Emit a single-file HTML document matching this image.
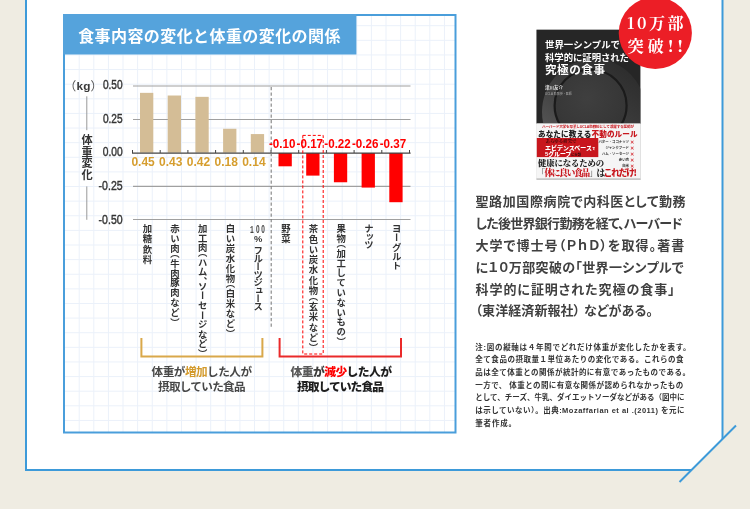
<!DOCTYPE html>
<html lang="ja"><head><meta charset="utf-8"><title>食事内容の変化と体重の変化の関係</title>
<style>
html,body{margin:0;padding:0;}
body{width:750px;height:509px;overflow:hidden;position:relative;background:#efece2;font-family:"Liberation Sans","Noto Sans CJK JP",sans-serif;}
svg{position:absolute;left:0;top:0;}
.vl{position:absolute;writing-mode:vertical-rl;font-size:9.4px;line-height:9.4px;width:9.4px;font-weight:700;color:#333;white-space:nowrap;}
.po{margin-top:-0.5em;} .pc{margin-bottom:-0.5em;}
.vt{position:absolute;writing-mode:vertical-rl;font-size:11.2px;line-height:11.2px;width:11.2px;font-weight:700;color:#333;letter-spacing:0.6px;}
.h100{position:absolute;font-size:10px;line-height:10px;width:15px;font-weight:500;color:#333;letter-spacing:1.5px;}
</style></head><body>
<svg width="750" height="509" viewBox="0 0 750 509">
<rect x="0" y="0" width="750" height="509" fill="#efece2"/>
<polygon points="26,-5 722.5,-5 722.5,438.5 691,470 26,470" fill="#fff"/>
<line x1="26" y1="-5" x2="26" y2="471" stroke="#3d9ad9" stroke-width="2"/>
<line x1="25" y1="470" x2="691" y2="470" stroke="#3d9ad9" stroke-width="2"/>
<line x1="722.5" y1="-5" x2="722.5" y2="439" stroke="#3d9ad9" stroke-width="2"/>
<line x1="736" y1="425.5" x2="679.5" y2="482" stroke="#3d9ad9" stroke-width="2"/>
<line x1="79.20" y1="15" x2="79.20" y2="432" stroke="#ebf1fa" stroke-width="1"/>
<line x1="93.81" y1="15" x2="93.81" y2="432" stroke="#ebf1fa" stroke-width="1"/>
<line x1="108.42" y1="15" x2="108.42" y2="432" stroke="#ebf1fa" stroke-width="1"/>
<line x1="123.03" y1="15" x2="123.03" y2="432" stroke="#ebf1fa" stroke-width="1"/>
<line x1="137.64" y1="15" x2="137.64" y2="432" stroke="#ebf1fa" stroke-width="1"/>
<line x1="152.25" y1="15" x2="152.25" y2="432" stroke="#ebf1fa" stroke-width="1"/>
<line x1="166.86" y1="15" x2="166.86" y2="432" stroke="#ebf1fa" stroke-width="1"/>
<line x1="181.47" y1="15" x2="181.47" y2="432" stroke="#ebf1fa" stroke-width="1"/>
<line x1="196.08" y1="15" x2="196.08" y2="432" stroke="#ebf1fa" stroke-width="1"/>
<line x1="210.69" y1="15" x2="210.69" y2="432" stroke="#ebf1fa" stroke-width="1"/>
<line x1="225.30" y1="15" x2="225.30" y2="432" stroke="#ebf1fa" stroke-width="1"/>
<line x1="239.91" y1="15" x2="239.91" y2="432" stroke="#ebf1fa" stroke-width="1"/>
<line x1="254.52" y1="15" x2="254.52" y2="432" stroke="#ebf1fa" stroke-width="1"/>
<line x1="269.13" y1="15" x2="269.13" y2="432" stroke="#ebf1fa" stroke-width="1"/>
<line x1="283.74" y1="15" x2="283.74" y2="432" stroke="#ebf1fa" stroke-width="1"/>
<line x1="298.35" y1="15" x2="298.35" y2="432" stroke="#ebf1fa" stroke-width="1"/>
<line x1="312.96" y1="15" x2="312.96" y2="432" stroke="#ebf1fa" stroke-width="1"/>
<line x1="327.57" y1="15" x2="327.57" y2="432" stroke="#ebf1fa" stroke-width="1"/>
<line x1="342.18" y1="15" x2="342.18" y2="432" stroke="#ebf1fa" stroke-width="1"/>
<line x1="356.79" y1="15" x2="356.79" y2="432" stroke="#ebf1fa" stroke-width="1"/>
<line x1="371.40" y1="15" x2="371.40" y2="432" stroke="#ebf1fa" stroke-width="1"/>
<line x1="386.01" y1="15" x2="386.01" y2="432" stroke="#ebf1fa" stroke-width="1"/>
<line x1="400.62" y1="15" x2="400.62" y2="432" stroke="#ebf1fa" stroke-width="1"/>
<line x1="415.23" y1="15" x2="415.23" y2="432" stroke="#ebf1fa" stroke-width="1"/>
<line x1="429.84" y1="15" x2="429.84" y2="432" stroke="#ebf1fa" stroke-width="1"/>
<line x1="444.45" y1="15" x2="444.45" y2="432" stroke="#ebf1fa" stroke-width="1"/>
<line x1="64" y1="25.70" x2="455" y2="25.70" stroke="#ebf1fa" stroke-width="1"/>
<line x1="64" y1="40.32" x2="455" y2="40.32" stroke="#ebf1fa" stroke-width="1"/>
<line x1="64" y1="54.94" x2="455" y2="54.94" stroke="#ebf1fa" stroke-width="1"/>
<line x1="64" y1="69.56" x2="455" y2="69.56" stroke="#ebf1fa" stroke-width="1"/>
<line x1="64" y1="84.18" x2="455" y2="84.18" stroke="#ebf1fa" stroke-width="1"/>
<line x1="64" y1="98.80" x2="455" y2="98.80" stroke="#ebf1fa" stroke-width="1"/>
<line x1="64" y1="113.42" x2="455" y2="113.42" stroke="#ebf1fa" stroke-width="1"/>
<line x1="64" y1="128.04" x2="455" y2="128.04" stroke="#ebf1fa" stroke-width="1"/>
<line x1="64" y1="142.66" x2="455" y2="142.66" stroke="#ebf1fa" stroke-width="1"/>
<line x1="64" y1="157.28" x2="455" y2="157.28" stroke="#ebf1fa" stroke-width="1"/>
<line x1="64" y1="171.90" x2="455" y2="171.90" stroke="#ebf1fa" stroke-width="1"/>
<line x1="64" y1="186.52" x2="455" y2="186.52" stroke="#ebf1fa" stroke-width="1"/>
<line x1="64" y1="201.14" x2="455" y2="201.14" stroke="#ebf1fa" stroke-width="1"/>
<line x1="64" y1="215.76" x2="455" y2="215.76" stroke="#ebf1fa" stroke-width="1"/>
<line x1="64" y1="230.38" x2="455" y2="230.38" stroke="#ebf1fa" stroke-width="1"/>
<line x1="64" y1="245.00" x2="455" y2="245.00" stroke="#ebf1fa" stroke-width="1"/>
<line x1="64" y1="259.62" x2="455" y2="259.62" stroke="#ebf1fa" stroke-width="1"/>
<line x1="64" y1="274.24" x2="455" y2="274.24" stroke="#ebf1fa" stroke-width="1"/>
<line x1="64" y1="288.86" x2="455" y2="288.86" stroke="#ebf1fa" stroke-width="1"/>
<line x1="64" y1="303.48" x2="455" y2="303.48" stroke="#ebf1fa" stroke-width="1"/>
<line x1="64" y1="318.10" x2="455" y2="318.10" stroke="#ebf1fa" stroke-width="1"/>
<line x1="64" y1="332.72" x2="455" y2="332.72" stroke="#ebf1fa" stroke-width="1"/>
<line x1="64" y1="347.34" x2="455" y2="347.34" stroke="#ebf1fa" stroke-width="1"/>
<line x1="64" y1="361.96" x2="455" y2="361.96" stroke="#ebf1fa" stroke-width="1"/>
<line x1="64" y1="376.58" x2="455" y2="376.58" stroke="#ebf1fa" stroke-width="1"/>
<line x1="64" y1="391.20" x2="455" y2="391.20" stroke="#ebf1fa" stroke-width="1"/>
<line x1="64" y1="405.82" x2="455" y2="405.82" stroke="#ebf1fa" stroke-width="1"/>
<line x1="64" y1="420.44" x2="455" y2="420.44" stroke="#ebf1fa" stroke-width="1"/>
<rect x="64" y="15" width="391.5" height="417.5" fill="none" stroke="#4a9edb" stroke-width="2"/>
<rect x="63" y="14" width="293.4" height="40.5" fill="#55a3dc"/>
<line x1="133" y1="86" x2="410.5" y2="86" stroke="#a0a0a0" stroke-width="1.2"/>
<line x1="133" y1="119.5" x2="410.5" y2="119.5" stroke="#a0a0a0" stroke-width="1.2"/>
<line x1="133" y1="186.4" x2="410.5" y2="186.4" stroke="#a0a0a0" stroke-width="1.2"/>
<line x1="133" y1="219.5" x2="410.5" y2="219.5" stroke="#a0a0a0" stroke-width="1.2"/>
<line x1="86.8" y1="96.3" x2="86.8" y2="130.2" stroke="#999" stroke-width="1"/>
<line x1="86.8" y1="186.4" x2="86.8" y2="219.8" stroke="#999" stroke-width="1"/>
<rect x="140.00" y="92.85" width="13.3" height="59.85" fill="#d4bd96"/>
<rect x="167.70" y="95.51" width="13.3" height="57.19" fill="#d4bd96"/>
<rect x="195.40" y="96.84" width="13.3" height="55.86" fill="#d4bd96"/>
<rect x="223.10" y="128.76" width="13.3" height="23.94" fill="#d4bd96"/>
<rect x="250.80" y="134.08" width="13.3" height="18.62" fill="#d4bd96"/>
<rect x="278.50" y="153" width="13.3" height="13.30" fill="#ff0000"/>
<rect x="306.20" y="153" width="13.3" height="22.61" fill="#ff0000"/>
<rect x="333.90" y="153" width="13.3" height="29.26" fill="#ff0000"/>
<rect x="361.60" y="153" width="13.3" height="34.58" fill="#ff0000"/>
<rect x="389.30" y="153" width="13.3" height="49.21" fill="#ff0000"/>
<line x1="132" y1="153.2" x2="410.6" y2="153.2" stroke="#444" stroke-width="1.3"/>
<line x1="132.50" y1="150" x2="132.50" y2="153" stroke="#444" stroke-width="1"/>
<line x1="160.20" y1="150" x2="160.20" y2="153" stroke="#444" stroke-width="1"/>
<line x1="187.90" y1="150" x2="187.90" y2="153" stroke="#444" stroke-width="1"/>
<line x1="215.60" y1="150" x2="215.60" y2="153" stroke="#444" stroke-width="1"/>
<line x1="243.30" y1="150" x2="243.30" y2="153" stroke="#444" stroke-width="1"/>
<line x1="271.00" y1="150" x2="271.00" y2="153" stroke="#444" stroke-width="1"/>
<line x1="298.70" y1="150" x2="298.70" y2="153" stroke="#444" stroke-width="1"/>
<line x1="326.40" y1="150" x2="326.40" y2="153" stroke="#444" stroke-width="1"/>
<line x1="354.10" y1="150" x2="354.10" y2="153" stroke="#444" stroke-width="1"/>
<line x1="381.80" y1="150" x2="381.80" y2="153" stroke="#444" stroke-width="1"/>
<line x1="409.50" y1="150" x2="409.50" y2="153" stroke="#444" stroke-width="1"/>
<line x1="271.2" y1="87" x2="271.2" y2="328" stroke="#808080" stroke-width="1.1" stroke-dasharray="3.2 2.3"/>
<rect x="302.8" y="135.4" width="20.4" height="218.6" fill="none" stroke="#ff0000" stroke-width="1" stroke-dasharray="3 2"/>
<polyline points="141.4,338 141.4,356.4 262.4,356.4 262.4,338" fill="none" stroke="#d9a84a" stroke-width="2"/>
<polyline points="279.6,338 279.6,356.4 401,356.4 401,338" fill="none" stroke="#ea2a2a" stroke-width="2"/>
<defs><linearGradient id="rim" x1="0.8" y1="0.1" x2="0.2" y2="0.9"><stop offset="0" stop-color="#2e2e2e"/><stop offset="0.5" stop-color="#3e3e3e"/><stop offset="1" stop-color="#595959"/></linearGradient><radialGradient id="well" cx="0.45" cy="0.4" r="0.6"><stop offset="0" stop-color="#3f3f3f"/><stop offset="1" stop-color="#353535"/></radialGradient><clipPath id="bookclip"><rect x="536.5" y="29.7" width="103.8" height="94"/></clipPath></defs>
<rect x="537" y="30.2" width="103.3" height="149.3" fill="none" stroke="#cfcfcf" stroke-width="1"/>
<rect x="536.5" y="29.7" width="103.8" height="94" fill="#262626"/>
<g clip-path="url(#bookclip)"><ellipse cx="594" cy="112" rx="52" ry="53" fill="url(#rim)"/><ellipse cx="590.6" cy="105.5" rx="36" ry="36" fill="url(#well)" stroke="#1b1b1b" stroke-width="2.2"/></g>
<rect x="536.5" y="123.4" width="103.8" height="55.5" fill="#f5f5f5"/>
<line x1="536.5" y1="178.9" x2="640.3" y2="178.9" stroke="#bbb" stroke-width="1"/>
<rect x="536.8" y="138" width="61.5" height="19.1" fill="#c8161d"/>
<ellipse cx="655.3" cy="33" rx="36.6" ry="36" fill="#ec1e26"/>
<text x="78.2" y="41.8" font-size="16" fill="#fff" font-weight="700" font-family='"Liberation Sans","Noto Sans CJK JP",sans-serif' text-anchor="start" textLength="262.2" lengthAdjust="spacing" >食事内容の変化と体重の変化の関係</text>
<text x="64.3" y="90.9" font-size="12" fill="#555" font-weight="400" font-family='"Noto Sans CJK JP",sans-serif' text-anchor="start" >（</text>
<text x="76.6" y="89.6" font-size="11.8" fill="#3a3a3a" font-weight="700" font-family='"Liberation Sans",sans-serif' text-anchor="start" >kg</text>
<text x="90.6" y="90.9" font-size="12" fill="#555" font-weight="400" font-family='"Noto Sans CJK JP",sans-serif' text-anchor="start" >）</text>
<text x="102.9" y="89.4" font-size="12.3" fill="#333" font-weight="400" font-family='"Liberation Sans",sans-serif' text-anchor="start" textLength="19.7" lengthAdjust="spacingAndGlyphs" stroke="#333" stroke-width="0.4">0.50</text>
<text x="102.9" y="122.8" font-size="12.3" fill="#333" font-weight="400" font-family='"Liberation Sans",sans-serif' text-anchor="start" textLength="19.7" lengthAdjust="spacingAndGlyphs" stroke="#333" stroke-width="0.4">0.25</text>
<text x="102.7" y="156.2" font-size="12.3" fill="#333" font-weight="400" font-family='"Liberation Sans",sans-serif' text-anchor="start" textLength="19.9" lengthAdjust="spacingAndGlyphs" stroke="#333" stroke-width="0.4">0.00</text>
<text x="98.6" y="190.2" font-size="12.3" fill="#333" font-weight="400" font-family='"Liberation Sans",sans-serif' text-anchor="start" textLength="24.0" lengthAdjust="spacingAndGlyphs" stroke="#333" stroke-width="0.4">-0.25</text>
<text x="98.6" y="223.6" font-size="12.3" fill="#333" font-weight="400" font-family='"Liberation Sans",sans-serif' text-anchor="start" textLength="24.0" lengthAdjust="spacingAndGlyphs" stroke="#333" stroke-width="0.4">-0.50</text>
<text x="131.4" y="166" font-size="12.6" fill="#d69e2f" font-weight="700" font-family='"Liberation Sans",sans-serif' text-anchor="start" textLength="23.4" lengthAdjust="spacingAndGlyphs" >0.45</text>
<text x="159.1" y="166" font-size="12.6" fill="#d69e2f" font-weight="700" font-family='"Liberation Sans",sans-serif' text-anchor="start" textLength="23.4" lengthAdjust="spacingAndGlyphs" >0.43</text>
<text x="186.8" y="166" font-size="12.6" fill="#d69e2f" font-weight="700" font-family='"Liberation Sans",sans-serif' text-anchor="start" textLength="23.4" lengthAdjust="spacingAndGlyphs" >0.42</text>
<text x="214.5" y="166" font-size="12.6" fill="#d69e2f" font-weight="700" font-family='"Liberation Sans",sans-serif' text-anchor="start" textLength="23.4" lengthAdjust="spacingAndGlyphs" >0.18</text>
<text x="242.2" y="166" font-size="12.6" fill="#d69e2f" font-weight="700" font-family='"Liberation Sans",sans-serif' text-anchor="start" textLength="23.4" lengthAdjust="spacingAndGlyphs" >0.14</text>
<text x="268.9" y="147.8" font-size="12.6" fill="#ff0000" font-weight="700" font-family='"Liberation Sans",sans-serif' text-anchor="start" textLength="26.5" lengthAdjust="spacingAndGlyphs" >-0.10</text>
<text x="296.6" y="147.8" font-size="12.6" fill="#ff0000" font-weight="700" font-family='"Liberation Sans",sans-serif' text-anchor="start" textLength="26.5" lengthAdjust="spacingAndGlyphs" >-0.17</text>
<text x="324.3" y="147.8" font-size="12.6" fill="#ff0000" font-weight="700" font-family='"Liberation Sans",sans-serif' text-anchor="start" textLength="26.5" lengthAdjust="spacingAndGlyphs" >-0.22</text>
<text x="352.0" y="147.8" font-size="12.6" fill="#ff0000" font-weight="700" font-family='"Liberation Sans",sans-serif' text-anchor="start" textLength="26.5" lengthAdjust="spacingAndGlyphs" >-0.26</text>
<text x="379.7" y="147.8" font-size="12.6" fill="#ff0000" font-weight="700" font-family='"Liberation Sans",sans-serif' text-anchor="start" textLength="26.5" lengthAdjust="spacingAndGlyphs" >-0.37</text>
<text x="250.0" y="232.5" font-size="10.4" fill="#444" font-weight="700" font-family='"Liberation Mono",monospace' text-anchor="start" textLength="3.8" lengthAdjust="spacingAndGlyphs" >1</text>
<text x="255.9" y="232.5" font-size="10.2" fill="#444" font-weight="700" font-family='"Liberation Sans",sans-serif' text-anchor="start" textLength="3.6" lengthAdjust="spacingAndGlyphs" >0</text>
<text x="261.3" y="232.5" font-size="10.2" fill="#444" font-weight="700" font-family='"Liberation Sans",sans-serif' text-anchor="start" textLength="3.6" lengthAdjust="spacingAndGlyphs" >0</text>
<text x="258.1" y="242.4" font-size="9.4" fill="#3a3a3a" font-weight="700" font-family='"Liberation Sans",sans-serif' text-anchor="middle" >%</text>
<text x="151.6" y="376" font-size="11.6" fill="#474747" font-weight="700" font-family='"Liberation Sans","Noto Sans CJK JP",sans-serif' text-anchor="start" textLength="100.4" lengthAdjust="spacing" >体重が<tspan fill="#d39a2c">増加</tspan>した人が</text>
<text x="158" y="390.5" font-size="11.6" fill="#474747" font-weight="700" font-family='"Liberation Sans","Noto Sans CJK JP",sans-serif' text-anchor="start" textLength="87.6" lengthAdjust="spacing" >摂取していた食品</text>
<text x="290.6" y="376" font-size="11.8" fill="#1e1e1e" font-weight="900" font-family='"Liberation Sans","Noto Sans CJK JP",sans-serif' text-anchor="start" textLength="101.4" lengthAdjust="spacing" ><tspan fill="#5a5a5a">体重</tspan><tspan fill="#3a3a3a">が</tspan><tspan fill="#ff0000">減少</tspan>した人が</text>
<text x="297" y="390.5" font-size="11.8" fill="#1e1e1e" font-weight="900" font-family='"Liberation Sans","Noto Sans CJK JP",sans-serif' text-anchor="start" textLength="87" lengthAdjust="spacing" >摂取していた食品</text>
<text x="475.5" y="206.3" font-size="13" fill="#404040" font-weight="700" font-family='"Liberation Sans","Noto Sans CJK JP",sans-serif' text-anchor="start" textLength="210.10000000000014" lengthAdjust="spacing" style="font-feature-settings:'palt'">聖路加国際病院で内科医として勤務</text>
<text x="475.5" y="228.1" font-size="13" fill="#404040" font-weight="700" font-family='"Liberation Sans","Noto Sans CJK JP",sans-serif' text-anchor="start" textLength="207.30000000000007" lengthAdjust="spacing" style="font-feature-settings:'palt'">した後世界銀行勤務を経て、ハーバード</text>
<text x="475.5" y="249.9" font-size="13" fill="#404040" font-weight="700" font-family='"Liberation Sans","Noto Sans CJK JP",sans-serif' text-anchor="start" textLength="208.69999999999993" lengthAdjust="spacing" style="font-feature-settings:'palt'">大学で博士号（ＰｈＤ）を取得。著書</text>
<text x="475.5" y="271.7" font-size="13" fill="#404040" font-weight="700" font-family='"Liberation Sans","Noto Sans CJK JP",sans-serif' text-anchor="start" textLength="208.19999999999993" lengthAdjust="spacing" style="font-feature-settings:'palt'">に１０万部突破の「世界一シンプルで</text>
<text x="475.5" y="293.5" font-size="13" fill="#404040" font-weight="700" font-family='"Liberation Sans","Noto Sans CJK JP",sans-serif' text-anchor="start" textLength="199.10000000000014" lengthAdjust="spacing" style="font-feature-settings:'palt'">科学的に証明された究極の食事」</text>
<text x="475.5" y="315.3" font-size="13" fill="#404040" font-weight="700" font-family='"Liberation Sans","Noto Sans CJK JP",sans-serif' text-anchor="start" textLength="177.5" lengthAdjust="spacing" style="font-feature-settings:'palt'">（東洋経済新報社） などがある。</text>
<text x="475.3" y="349.6" font-size="7.5" fill="#333" font-weight="700" font-family='"Liberation Sans","Noto Sans CJK JP",sans-serif' text-anchor="start" textLength="215.30000000000007" lengthAdjust="spacing" >注:図の縦軸は４年間でどれだけ体重が変化したかを表す。</text>
<text x="475.3" y="362.27" font-size="7.5" fill="#333" font-weight="700" font-family='"Liberation Sans","Noto Sans CJK JP",sans-serif' text-anchor="start" textLength="208.19999999999993" lengthAdjust="spacing" >全て食品の摂取量１単位あたりの変化である。これらの食</text>
<text x="475.3" y="374.94" font-size="7.5" fill="#333" font-weight="700" font-family='"Liberation Sans","Noto Sans CJK JP",sans-serif' text-anchor="start" textLength="214.60000000000014" lengthAdjust="spacing" >品は全て体重との関係が統計的に有意であったものである。</text>
<text x="475.3" y="387.61" font-size="7.5" fill="#333" font-weight="700" font-family='"Liberation Sans","Noto Sans CJK JP",sans-serif' text-anchor="start" textLength="208.0" lengthAdjust="spacing" >一方で、 体重との間に有意な関係が認められなかったもの</text>
<text x="475.3" y="400.28" font-size="7.5" fill="#333" font-weight="700" font-family='"Liberation Sans","Noto Sans CJK JP",sans-serif' text-anchor="start" textLength="209.19999999999993" lengthAdjust="spacing" >として、チーズ、牛乳、ダイエットソーダなどがある（図中に</text>
<text x="475.3" y="412.95" font-size="7.5" fill="#333" font-weight="700" font-family='"Liberation Sans","Noto Sans CJK JP",sans-serif' text-anchor="start" textLength="209.19999999999993" lengthAdjust="spacing" >は示していない）。出典:Mozaffarian et al .(2011) を元に</text>
<text x="475.3" y="425.62" font-size="7.5" fill="#333" font-weight="700" font-family='"Liberation Sans","Noto Sans CJK JP",sans-serif' text-anchor="start" textLength="40.69999999999993" lengthAdjust="spacing" >筆者作成。</text>
<text x="545" y="47.8" font-size="9.4" fill="#fff" font-weight="700" font-family='"Liberation Sans","Noto Sans CJK JP",sans-serif' text-anchor="start" textLength="75" lengthAdjust="spacing" >世界一シンプルで</text>
<text x="545" y="60.5" font-size="9.4" fill="#fff" font-weight="700" font-family='"Liberation Sans","Noto Sans CJK JP",sans-serif' text-anchor="start" textLength="84" lengthAdjust="spacing" >科学的に証明された</text>
<text x="545" y="74" font-size="11.6" fill="#fff" font-weight="700" font-family='"Liberation Sans","Noto Sans CJK JP",sans-serif' text-anchor="start" textLength="60" lengthAdjust="spacing" >究極の食事</text>
<text x="545" y="89" font-size="4.5" fill="#ddd" font-weight="700" font-family='"Liberation Sans","Noto Sans CJK JP",sans-serif' text-anchor="start" >津川友介</text>
<text x="545" y="95" font-size="3" fill="#aaa" font-weight="400" font-family='"Liberation Sans","Noto Sans CJK JP",sans-serif' text-anchor="start" >UCLA 助教授・医師</text>
<text x="542" y="128" font-size="3.6" fill="#c8161d" font-weight="700" font-family='"Liberation Sans","Noto Sans CJK JP",sans-serif' text-anchor="start" textLength="92" lengthAdjust="spacing" >ハーバード大学を卒業しUCLA助教授として活躍する医師が</text>
<text x="538" y="136.5" font-size="7.6" fill="#222" font-weight="900" font-family='"Liberation Sans","Noto Sans CJK JP",sans-serif' text-anchor="start" textLength="99.5" lengthAdjust="spacing" >あなたに教える<tspan fill="#c8161d">不動のルール</tspan></text>
<text x="545.5" y="143.3" font-size="4" fill="#3a0a0a" font-weight="700" font-family='"Noto Serif CJK JP",serif' text-anchor="start" textLength="31" lengthAdjust="spacingAndGlyphs" >あらゆる研究で</text>
<text x="545" y="150" font-size="5.8" fill="#fff" font-weight="900" font-family='"Liberation Sans","Noto Sans CJK JP",sans-serif' text-anchor="start" textLength="50" lengthAdjust="spacingAndGlyphs" >エビデンスベース<tspan font-size="3">で</tspan></text>
<text x="545" y="156.3" font-size="5.8" fill="#fff" font-weight="900" font-family='"Liberation Sans","Noto Sans CJK JP",sans-serif' text-anchor="start" textLength="36" lengthAdjust="spacingAndGlyphs" >5グループ<tspan font-size="3.2" fill="#3a0a0a">に分類</tspan></text>
<text x="629" y="143.3" font-size="3.4" fill="#333" font-weight="700" font-family='"Liberation Sans","Noto Sans CJK JP",sans-serif' text-anchor="end" >バター・ココナッツ</text>
<text x="630" y="143.9" font-size="5.2" fill="#d0141c" font-weight="900" font-family='"DejaVu Sans",sans-serif' text-anchor="start" >✕</text>
<text x="629" y="149.2" font-size="3.4" fill="#333" font-weight="700" font-family='"Liberation Sans","Noto Sans CJK JP",sans-serif' text-anchor="end" >ジャンクフード</text>
<text x="630" y="149.8" font-size="5.2" fill="#d0141c" font-weight="900" font-family='"DejaVu Sans",sans-serif' text-anchor="start" >✕</text>
<text x="629" y="155.1" font-size="3.4" fill="#333" font-weight="700" font-family='"Liberation Sans","Noto Sans CJK JP",sans-serif' text-anchor="end" >ハム・ソーセージ</text>
<text x="630" y="155.7" font-size="5.2" fill="#d0141c" font-weight="900" font-family='"DejaVu Sans",sans-serif' text-anchor="start" >✕</text>
<text x="629" y="161.0" font-size="3.4" fill="#333" font-weight="700" font-family='"Liberation Sans","Noto Sans CJK JP",sans-serif' text-anchor="end" >赤い肉</text>
<text x="630" y="161.6" font-size="5.2" fill="#d0141c" font-weight="900" font-family='"DejaVu Sans",sans-serif' text-anchor="start" >✕</text>
<text x="629" y="166.9" font-size="3.4" fill="#333" font-weight="700" font-family='"Liberation Sans","Noto Sans CJK JP",sans-serif' text-anchor="end" >白米</text>
<text x="630" y="167.5" font-size="5.2" fill="#d0141c" font-weight="900" font-family='"DejaVu Sans",sans-serif' text-anchor="start" >✕</text>
<text x="538" y="166.2" font-size="8.4" fill="#222" font-weight="900" font-family='"Noto Serif CJK JP",serif' text-anchor="start" textLength="66" lengthAdjust="spacing" >健康になるための</text>
<text x="537" y="176.3" font-size="8.6" fill="#222" font-weight="900" font-family='"Noto Serif CJK JP",serif' text-anchor="start" textLength="100" lengthAdjust="spacing" >「<tspan fill="#c8161d">体に良い食品</tspan>」は<tspan fill="#c8161d" font-family='"Noto Sans CJK JP",sans-serif'>これだけ!</tspan></text>
<text x="627" y="29.3" font-size="16" fill="#fff" font-weight="700" font-family='"Noto Serif CJK JP",serif' text-anchor="start" textLength="56.5" lengthAdjust="spacing" >10万部</text>
<text x="627.5" y="52" font-size="16.3" fill="#fff" font-weight="700" font-family='"Noto Serif CJK JP",serif' text-anchor="start" textLength="55.5" lengthAdjust="spacing" >突破!!</text>
</svg>
<div class="vl" style="left:141.95px;top:224.44px;letter-spacing:0.800px">加糖飲料</div>
<div class="vl" style="left:169.65px;top:224.44px;letter-spacing:0.420px">赤い肉<span class="po">（</span>牛肉豚肉など<span class="pc">）</span></div>
<div class="vl" style="left:197.35px;top:224.44px;letter-spacing:0.171px">加工肉<span class="po">（</span>ハム<span class="pc">、</span>ソーセージなど<span class="pc">）</span></div>
<div class="vl" style="left:225.05px;top:224.44px;letter-spacing:0.509px">白い炭水化物<span class="po">（</span>白米など<span class="pc">）</span></div>
<div class="vl" style="left:252.75px;top:246px;letter-spacing:-1.482px">フルーツジュース</div>
<div class="vl" style="left:280.45px;top:224.44px;letter-spacing:0.000px">野菜</div>
<div class="vl" style="left:308.15px;top:224.44px;letter-spacing:0.917px">茶色い炭水化物<span class="po">（</span>玄米など<span class="pc">）</span></div>
<div class="vl" style="left:335.85px;top:224.44px;letter-spacing:0.383px">果物<span class="po">（</span>加工していないもの<span class="pc">）</span></div>
<div class="vl" style="left:363.55px;top:224.44px;letter-spacing:-1.600px">ナッツ</div>
<div class="vl" style="left:391.25px;top:224.44px;letter-spacing:-0.250px">ヨーグルト</div>
<div class="vt" style="left:80px;top:134px">体重変化</div>
</body></html>
